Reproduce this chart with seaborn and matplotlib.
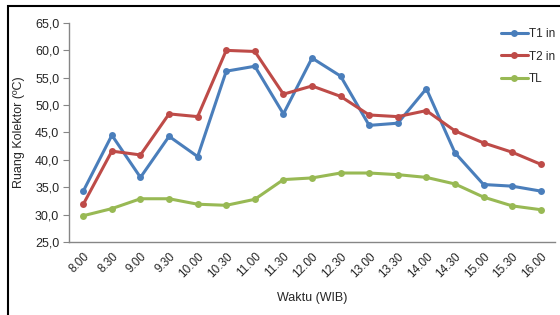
import matplotlib as mpl

mpl.use('Agg')
import pandas as pd
import matplotlib.pyplot as plt
from matplotlib.patches import Rectangle
import seaborn as sns
import numpy as np

sns.set_style("white")
plt.rcParams['font.family'] = ['Liberation Sans', 'DejaVu Sans']

# data
times = ['8.00', '8.30', '9.00', '9.30', '10.00', '10.30', '11.00', '11.30', '12.00',
         '12.30', '13.00', '13.30', '14.00', '14.30', '15.00', '15.30', '16.00']
t1_in = [34.3, 44.5, 36.8, 44.3, 40.6, 56.2, 57.1, 48.4, 58.6, 55.3, 46.3, 46.7, 53.0,
         41.3, 35.5, 35.2, 34.3]
t2_in = [31.9, 41.6, 40.9, 48.4, 47.9, 60.0, 59.8, 52.0, 53.5, 51.6, 48.2, 47.9, 49.0,
         45.3, 43.1, 41.4, 39.2]
tl = [29.8, 31.1, 32.9, 32.9, 31.9, 31.7, 32.8, 36.4, 36.7, 37.6, 37.6, 37.3, 36.8,
      35.6, 33.2, 31.6, 30.9]
series_names = ['T1 in', 'T2 in', 'TL']
colours = ['#4a7ebb', '#be4b48', '#98b954']

pos = np.arange(len(times))
df = pd.DataFrame({
    'pos': np.tile(pos, 3),
    'temp': t1_in + t2_in + tl,
    'seri': np.repeat(series_names, len(times)),
})

fig = plt.figure(figsize=(5.6, 3.15), dpi=100)
ax = fig.add_axes([69 / 560, 1 - 242 / 315, (555 - 69) / 560, (242 - 23) / 315])

sns.lineplot(data=df, x='pos', y='temp', hue='seri', palette=colours, ax=ax,
             marker='o', markersize=5, markeredgewidth=0, linewidth=2.2, legend=True)

ax.set_xlim(-0.5, len(times) - 0.5)
ax.set_ylim(25, 65)
ax.set_yticks(np.arange(25, 66, 5))
ax.set_yticklabels([f'{v:.1f}'.replace('.', ',') for v in np.arange(25, 66, 5)], fontsize=9)
ax.set_xticks(pos)
ax.set_xticklabels(times, rotation=45, ha='right', rotation_mode='anchor', fontsize=8.5)

for s in ['top', 'right']:
    ax.spines[s].set_visible(False)
for s in ['left', 'bottom']:
    ax.spines[s].set_color('#868686')
    ax.spines[s].set_linewidth(1.0)
ax.tick_params(axis='y', length=4, color='#868686', direction='out', pad=3, left=True)
ax.tick_params(axis='x', length=0, pad=6)

ax.set_xlabel('Waktu (WIB)', fontsize=9, labelpad=9)
ax.set_ylabel('Ruang Kolektor (ºC)', fontsize=9, labelpad=7)

ax.legend(loc='upper left', bbox_to_anchor=(495 / 560, 1 - 22 / 315),
          bbox_transform=fig.transFigure, frameon=False, fontsize=8.5,
          handlelength=2.3, handletextpad=0.1, labelspacing=0.9, borderpad=0)

# outer frame of the original figure, cut by the right and bottom edges
fig.patches.append(Rectangle((8 / 560, -0.1), 1.2, 1 - 6 / 315 + 0.1,
                             transform=fig.transFigure, fill=False,
                             edgecolor='black', linewidth=1.5))

fig.savefig('out.png', dpi=100)
